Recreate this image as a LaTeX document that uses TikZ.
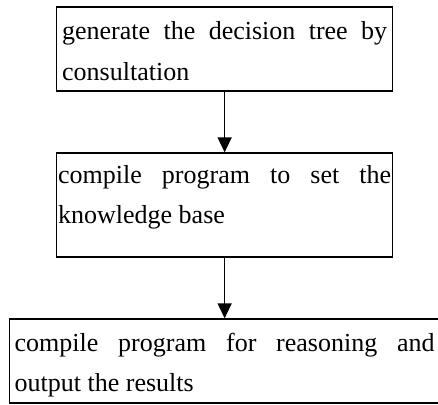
\documentclass[tikz,border=0pt]{standalone}
\usepackage{fontspec}
\setmainfont{Liberation Serif}
\usetikzlibrary{arrows.meta}

\begin{document}
\begin{tikzpicture}[x=1pt, y=-1pt, line width=1.3pt,
  every node/.style={font=\fontsize{26}{40}\selectfont},
  stage/.style={draw, anchor=base west, align=justify, inner ysep=0pt},
  flow/.style={-{Triangle[width=14pt, length=15pt]}}]
\useasboundingbox (0,0) rectangle (438,404);

\node[stage, text width=325pt, inner xsep=5.5pt, text height=33pt, text depth=51pt] (tree) at (56, 40) {generate the decision tree by\linebreak consultation};
\node[stage, text width=333pt, inner xsep=1.5pt, text height=30pt, text depth=74pt] (base) at (56, 183) {compile program to set the\linebreak knowledge base};
\node[stage, text width=420pt, inner xsep=5.5pt, text height=32pt, text depth=52pt] (reason) at (8.5, 351) {compile program for reasoning and\linebreak output the results};

\draw[flow] (tree.south) -- (base.north);
\draw[flow] (base.south) -- (reason.north);

\end{tikzpicture}
\end{document}
